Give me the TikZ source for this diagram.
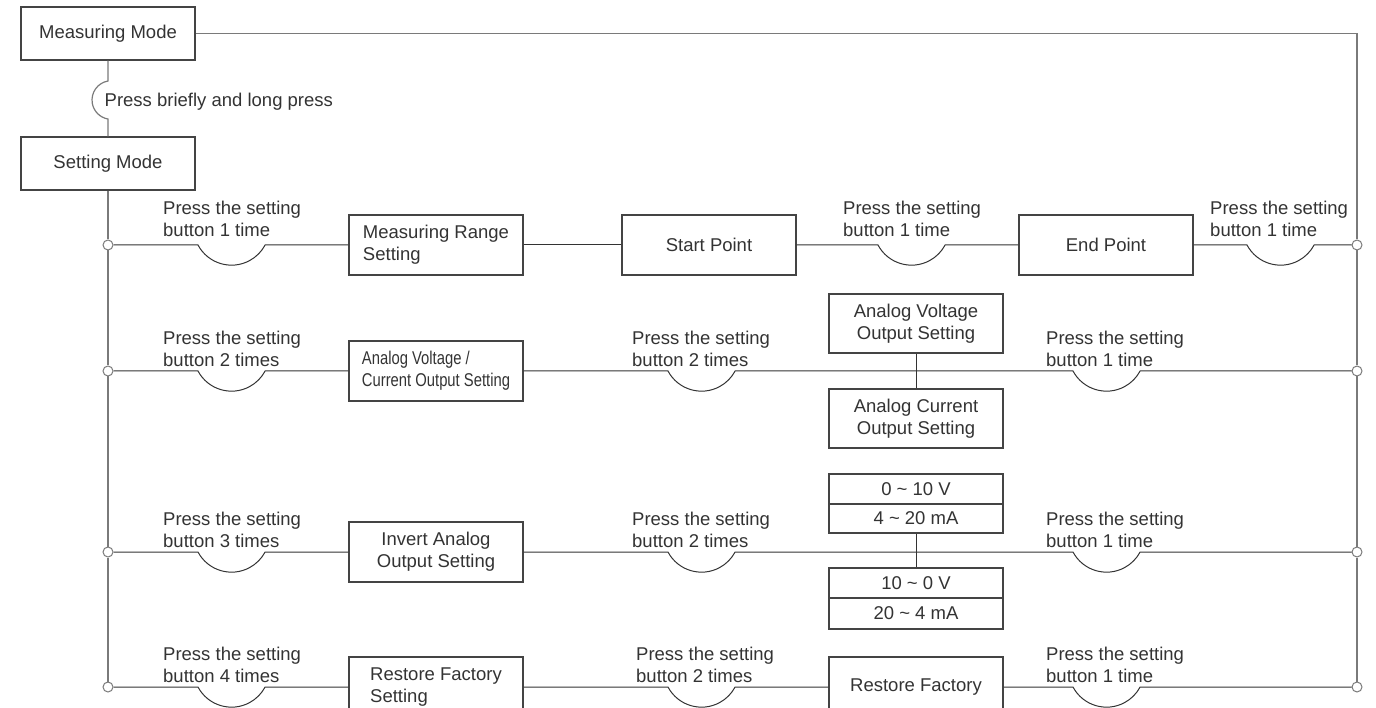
\documentclass[tikz,border=0pt]{standalone}
\usepackage{fontspec}
\setmainfont{Liberation Sans}
\newfontfamily\narrowfont[FakeStretch=0.8]{Liberation Sans}
\definecolor{ink}{HTML}{333333}
\definecolor{boxc}{HTML}{444444}
\definecolor{rail}{HTML}{7A7A7A}
\begin{document}
\begin{tikzpicture}[x=1pt,y=1pt,
  font=\fontsize{18.5}{22}\selectfont, text=ink,
  box/.style={draw=boxc, line width=1.1pt, rectangle, inner sep=0pt,
    minimum width=174pt, minimum height=60pt, align=center},
  lbox/.style={box, align=left},
  cell/.style={box, minimum height=30pt},
  lbl/.style={anchor=north west, align=left, inner sep=0pt},
  wire/.style={draw=ink, line width=1pt},
  railline/.style={draw=rail, line width=1.2pt},
  dot/.style={circle, draw=rail, fill=white, line width=1pt, minimum size=10pt, inner sep=0pt}]
\useasboundingbox (0,0) rectangle (1376,-708);
\clip (0,0) rectangle (1376,-708);

% mode boxes
\node[box, minimum height=53pt] (mm) at (108,-33.5) {Measuring Mode};
\node[box, minimum height=53pt] (sm) at (108,-163.5) {Setting Mode};

% row 1
\node[lbox] (mrs) at (436,-245) {Measuring Range\\Setting};
\node[box] (sp) at (709,-245) {Start Point};
\node[box] (ep) at (1106,-245) {End Point};

% row 2
\node[lbox] (avc) at (436,-371) {\narrowfont Analog Voltage /\\\narrowfont Current Output Setting};
\node[box, minimum height=59pt] (avo) at (916,-323.5) {Analog Voltage\\Output Setting};
\node[box, minimum height=59pt] (aco) at (916,-418.5) {Analog Current\\Output Setting};

% row 3
\node[box] (inv) at (436,-552) {Invert Analog\\Output Setting};
\node[cell] (v1) at (916,-489) {0 \textasciitilde{} 10 V};
\node[cell, minimum height=29pt] (v2) at (916,-518.5) {4 \textasciitilde{} 20 mA};
\node[cell] (v3) at (916,-583) {10 \textasciitilde{} 0 V};
\node[cell, minimum height=31pt] (v4) at (916,-613.5) {20 \textasciitilde{} 4 mA};

% row 4
\node[lbox] (rfs) at (436,-687) {Restore Factory\\Setting};
\node[box] (rf) at (916,-687) {Restore Factory};

% junction dots
\node[dot] (l1) at (108,-245) {};
\node[dot] (l2) at (108,-371) {};
\node[dot] (l3) at (108,-552) {};
\node[dot] (l4) at (108,-687) {};
\node[dot] (r1) at (1357,-245) {};
\node[dot] (r2) at (1357,-371) {};
\node[dot] (r3) at (1357,-552) {};
\node[dot] (r4) at (1357,-687) {};

% arc start coordinates
\coordinate (ta) at (108,-81);
\coordinate (a1) at (198,-245);
\coordinate (b1) at (878,-245);
\coordinate (c1) at (1247,-245);
\coordinate (a2) at (198,-371);
\coordinate (b2) at (668,-371);
\coordinate (c2) at (1073,-371);
\coordinate (a3) at (198,-552);
\coordinate (b3) at (668,-552);
\coordinate (c3) at (1073,-552);
\coordinate (a4) at (198,-687);
\coordinate (b4) at (668,-687);
\coordinate (c4) at (1073,-687);

% rails
\draw[railline] (mm.east) -- (mm.east -| r1) -- (r1);
\draw[railline] (r1) -- (r2);
\draw[railline] (r2) -- (r3);
\draw[railline] (r3) -- (r4);
\draw[railline] (mm.south) -- (ta) arc[start angle=99.9, end angle=260.1, radius=19.3pt] -- (sm.north);
\draw[railline] (sm.south) -- (l1);
\draw[railline] (l1) -- (l2);
\draw[railline] (l2) -- (l3);
\draw[railline] (l3) -- (l4);

% row 1 wires
\draw[wire] (l1) -- (a1) arc[start angle=208, end angle=332, radius=38pt] -- (mrs);
\draw[wire] (mrs) -- (sp);
\draw[wire] (sp) -- (b1) arc[start angle=208, end angle=332, radius=38pt] -- (ep);
\draw[wire] (ep) -- (c1) arc[start angle=208, end angle=332, radius=38pt] -- (r1);

% row 2 wires
\draw[wire] (l2) -- (a2) arc[start angle=208, end angle=332, radius=38pt] -- (avc);
\draw[wire] (avc) -- (b2) arc[start angle=208, end angle=332, radius=38pt] -- (c2)
  arc[start angle=208, end angle=332, radius=38pt] -- (r2);
\draw[wire] (avo) -- (aco);

% row 3 wires
\draw[wire] (l3) -- (a3) arc[start angle=208, end angle=332, radius=38pt] -- (inv);
\draw[wire] (inv) -- (b3) arc[start angle=208, end angle=332, radius=38pt] -- (c3)
  arc[start angle=208, end angle=332, radius=38pt] -- (r3);
\draw[wire] (v2) -- (v3);

% row 4 wires
\draw[wire] (l4) -- (a4) arc[start angle=208, end angle=332, radius=38pt] -- (rfs);
\draw[wire] (rfs) -- (b4) arc[start angle=208, end angle=332, radius=38pt] -- (rf);
\draw[wire] (rf) -- (c4) arc[start angle=208, end angle=332, radius=38pt] -- (r4);

% labels
\node[anchor=base west, inner sep=0pt] (lb0) at (104.5,-107) {Press briefly and long press};
\node[lbl] (lb11) at (163,-201) {Press the setting\\button 1 time};
\node[lbl] (lb12) at (843,-201) {Press the setting\\button 1 time};
\node[lbl] (lb13) at (1210,-201) {Press the setting\\button 1 time};
\node[lbl] (lb21) at (163,-330.5) {Press the setting\\button 2 times};
\node[lbl] (lb22) at (632,-330.5) {Press the setting\\button 2 times};
\node[lbl] (lb23) at (1046,-330.5) {Press the setting\\button 1 time};
\node[lbl] (lb31) at (163,-511.5) {Press the setting\\button 3 times};
\node[lbl] (lb32) at (632,-511.5) {Press the setting\\button 2 times};
\node[lbl] (lb33) at (1046,-511.5) {Press the setting\\button 1 time};
\node[lbl] (lb41) at (163,-646.5) {Press the setting\\button 4 times};
\node[lbl] (lb42) at (636,-646.5) {Press the setting\\button 2 times};
\node[lbl] (lb43) at (1046,-646.5) {Press the setting\\button 1 time};
\end{tikzpicture}
\end{document}
